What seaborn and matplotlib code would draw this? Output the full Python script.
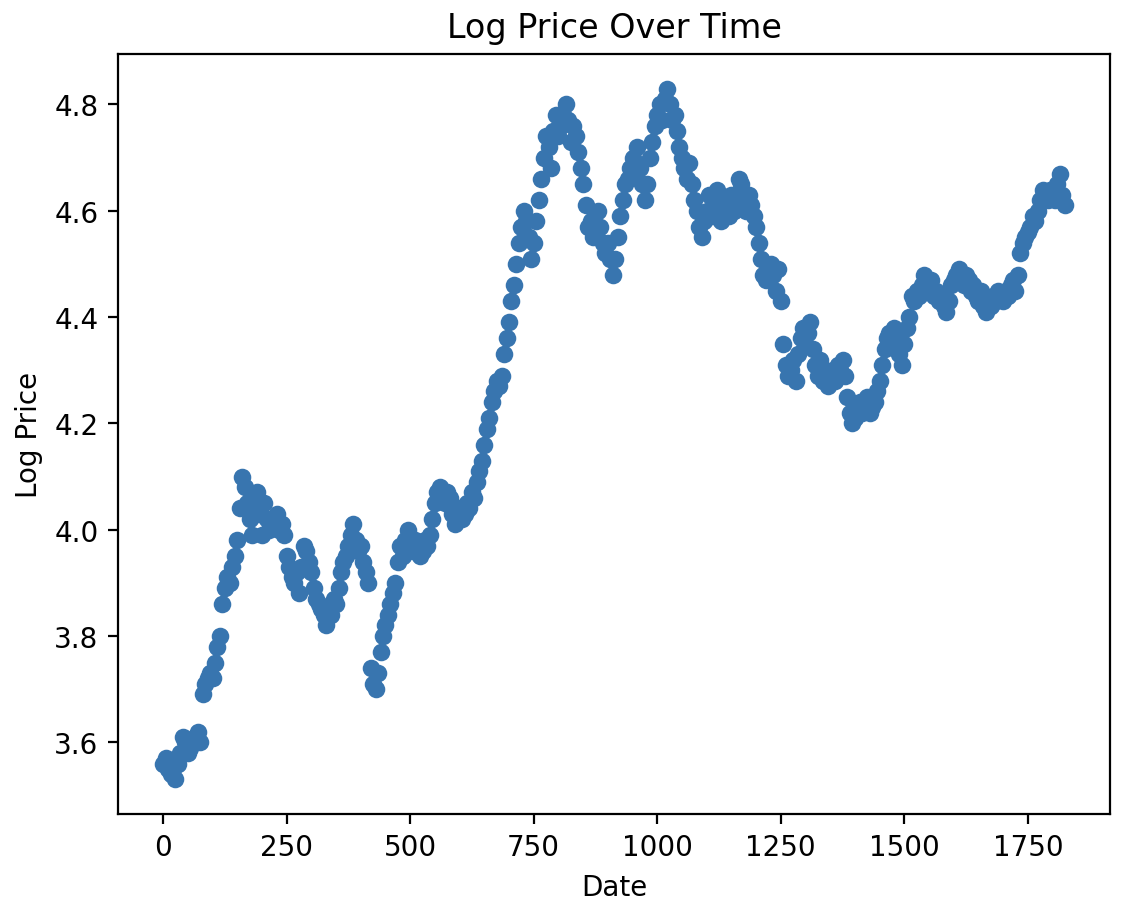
import numpy as np
import pandas as pd
import matplotlib
matplotlib.use("Agg")
import matplotlib.pyplot as plt
import seaborn as sns

step_days = 5
log_price = [
    3.56, 3.57, 3.55, 3.54, 3.55, 3.53, 3.56, 3.58, 3.61, 3.60,
    3.58, 3.59, 3.60, 3.61, 3.62, 3.60, 3.69, 3.71, 3.72, 3.73,
    3.72, 3.75, 3.78, 3.80, 3.86, 3.89, 3.91, 3.90, 3.93, 3.95,
    3.98, 4.04, 4.10, 4.08, 4.05, 4.02, 3.99, 4.04, 4.07, 4.03,
    3.99, 4.05, 4.02, 4.00, 4.02, 4.01, 4.03, 4.00, 4.01, 3.99,
    3.95, 3.93, 3.91, 3.90, 3.92, 3.88, 3.93, 3.97, 3.96, 3.94,
    3.92, 3.89, 3.87, 3.86, 3.85, 3.84, 3.82, 3.85, 3.84, 3.87,
    3.86, 3.89, 3.92, 3.94, 3.95, 3.97, 3.99, 4.01, 3.98, 3.96,
    3.97, 3.94, 3.92, 3.90, 3.74, 3.71, 3.70, 3.73, 3.77, 3.80,
    3.82, 3.84, 3.86, 3.88, 3.90, 3.94, 3.97, 3.95, 3.98, 4.00,
    3.97, 3.96, 3.98, 3.97, 3.95, 3.96, 3.98, 3.97, 3.99, 4.02,
    4.05, 4.07, 4.08, 4.06, 4.05, 4.07, 4.06, 4.03, 4.01, 4.02,
    4.04, 4.02, 4.03, 4.05, 4.04, 4.07, 4.06, 4.09, 4.11, 4.13,
    4.16, 4.19, 4.21, 4.24, 4.26, 4.28, 4.27, 4.29, 4.33, 4.36,
    4.39, 4.43, 4.46, 4.50, 4.54, 4.57, 4.60, 4.58, 4.55, 4.51,
    4.54, 4.58, 4.62, 4.66, 4.70, 4.74, 4.72, 4.68, 4.75, 4.78,
    4.74, 4.76, 4.78, 4.80, 4.77, 4.73, 4.76, 4.74, 4.71, 4.68,
    4.65, 4.61, 4.57, 4.58, 4.55, 4.56, 4.60, 4.57, 4.54, 4.52,
    4.54, 4.51, 4.48, 4.51, 4.55, 4.59, 4.62, 4.65, 4.66, 4.68,
    4.70, 4.67, 4.72, 4.68, 4.65, 4.62, 4.65, 4.70, 4.73, 4.76,
    4.78, 4.80, 4.77, 4.81, 4.83, 4.80, 4.77, 4.78, 4.75, 4.72,
    4.70, 4.68, 4.66, 4.69, 4.65, 4.62, 4.60, 4.57, 4.55, 4.58,
    4.60, 4.63, 4.59, 4.62, 4.64, 4.60, 4.58, 4.62, 4.61, 4.59,
    4.63, 4.60, 4.62, 4.66, 4.65, 4.62, 4.60, 4.63, 4.61, 4.59,
    4.57, 4.54, 4.51, 4.48, 4.47, 4.49, 4.50, 4.48, 4.45, 4.49,
    4.43, 4.35, 4.31, 4.29, 4.30, 4.32, 4.28, 4.33, 4.36, 4.38,
    4.35, 4.37, 4.39, 4.34, 4.31, 4.29, 4.32, 4.28, 4.30, 4.27,
    4.29, 4.30, 4.28, 4.31, 4.30, 4.32, 4.29, 4.25, 4.22, 4.20,
    4.21, 4.23, 4.24, 4.22, 4.23, 4.25, 4.22, 4.23, 4.24, 4.26,
    4.28, 4.31, 4.34, 4.36, 4.37, 4.35, 4.38, 4.36, 4.33, 4.31,
    4.35, 4.38, 4.40, 4.44, 4.43, 4.45, 4.44, 4.46, 4.48, 4.46,
    4.45, 4.47, 4.44, 4.45, 4.43, 4.44, 4.42, 4.41, 4.43, 4.46,
    4.47, 4.48, 4.49, 4.47, 4.46, 4.48, 4.47, 4.45, 4.46, 4.44,
    4.43, 4.45, 4.42, 4.41, 4.43, 4.42, 4.44, 4.43, 4.45, 4.44,
    4.43, 4.45, 4.44, 4.46, 4.47, 4.45, 4.48, 4.52, 4.54, 4.55,
    4.56, 4.57, 4.59, 4.58, 4.60, 4.62, 4.64, 4.63, 4.62, 4.64,
    4.63, 4.62, 4.65, 4.67, 4.63, 4.61,
]
dates = [i * step_days for i in range(len(log_price))]

df = pd.DataFrame({"Date": dates, "Log Price": log_price})

fig = plt.figure(figsize=(5.64, 4.515), dpi=200)
ax = fig.add_axes([118 / 1128, 1 - 815 / 903, (1110 - 118) / 1128, (815 - 55) / 903])

sns.scatterplot(data=df, x="Date", y="Log Price", ax=ax,
                color="#3875af", s=40, linewidth=0, alpha=1.0)

ax.set_title("Log Price Over Time", fontsize=12)
ax.set_xlabel("Date")
ax.set_ylabel("Log Price")

fig.savefig("out.png", dpi=200)
